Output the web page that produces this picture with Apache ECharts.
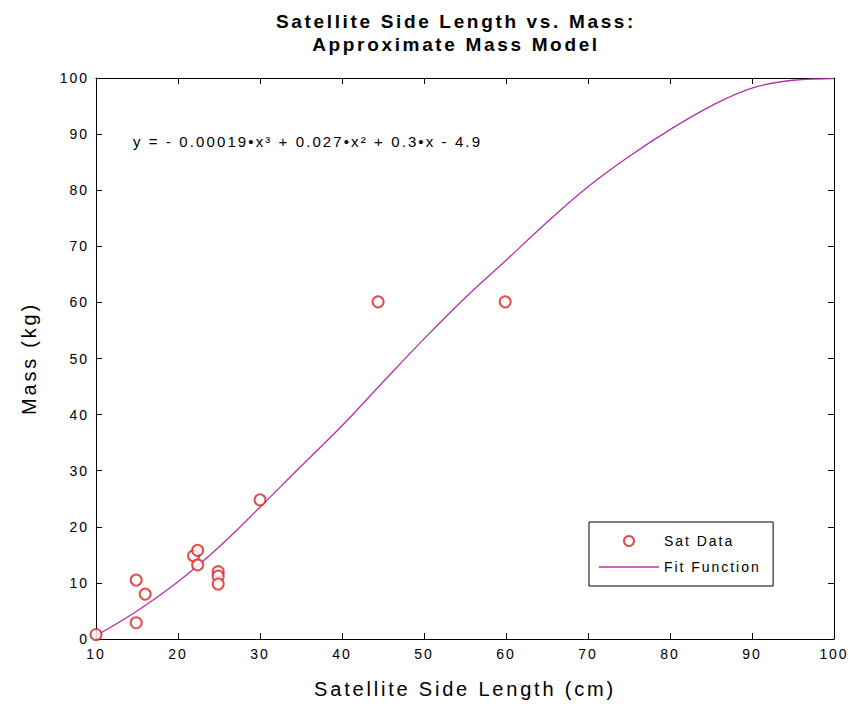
<!DOCTYPE html>
<html>
<head>
<meta charset="utf-8">
<script src="https://cdn.jsdelivr.net/npm/echarts@6/dist/echarts.min.js"></script>
<style>
html,body{margin:0;padding:0;background:#fff}
#c{width:862px;height:704px}
#c svg text{letter-spacing:0.14em}
</style>
</head>
<body>
<div id="c"></div>
<script>
var satX = [10, 14.9, 14.9, 16.0, 21.9, 22.4, 22.4, 24.9, 24.9, 24.9, 30.0, 44.4, 59.9];
var satY = [0.8, 10.5, 2.9, 8.0, 14.8, 15.8, 13.2, 12.0, 11.2, 9.8, 24.8, 60.1, 60.1];
var fitX = [10, 15, 20, 25, 30, 35, 40, 45, 50, 55, 60, 65, 70, 75, 80, 85, 90, 95, 100];
var fitY = [0.6, 5.0, 10.2, 16.4, 23.5, 30.8, 38.0, 45.8, 53.5, 60.8, 67.5, 74.3, 80.6, 86.0, 90.8, 95.0, 98.2, 99.6, 99.9];
var xTicks = [10, 20, 30, 40, 50, 60, 70, 80, 90, 100];
var yTicks = [0, 10, 20, 30, 40, 50, 60, 70, 80, 90, 100];
var equation = 'y = - 0.00019•x³ + 0.027•x² + 0.3•x - 4.9';

var FONT = 'Liberation Sans';
var chart = echarts.init(document.getElementById('c'), null, { renderer: 'svg' });
function pairs(a, b) { return a.map(function (v, i) { return [v, b[i]]; }); }
var axisCommon = {
  type: 'value', interval: 10,
  axisLine: { show: true, onZero: false, lineStyle: { color: '#000', width: 1 } },
  axisTick: { show: true, inside: true, length: 6, lineStyle: { color: '#000' } },
  splitLine: { show: false }
};
chart.setOption({
  animation: false,
  backgroundColor: '#fff',
  title: {
    text: 'Satellite Side Length vs. Mass:\nApproximate Mass Model',
    left: 451, top: 5, textAlign: 'center',
    textStyle: { fontFamily: FONT, fontWeight: 'bold', fontSize: 19, lineHeight: 23, color: '#000' }
  },
  grid: { left: 96, right: 28, top: 78, bottom: 64, show: false },
  legend: {
    orient: 'vertical', left: 589, top: 522,
    padding: [12, 36, 12, 10],
    borderColor: '#000', borderWidth: 1, backgroundColor: '#fff',
    itemWidth: 60, itemHeight: 10, itemGap: 12,
    textStyle: { fontFamily: FONT, fontSize: 14, color: '#000' },
    data: [{ name: 'Sat Data' }, { name: 'Fit Function', icon: 'path://M0,0H60V1.4H0Z' }]
  },
  xAxis: [
    Object.assign({}, axisCommon, {
      min: 10, max: 100, position: 'bottom',
      name: 'Satellite Side Length (cm)', nameLocation: 'middle', nameGap: 40,
      nameTextStyle: { fontFamily: FONT, fontSize: 20, color: '#000' },
      axisLabel: { fontFamily: FONT, fontSize: 14, color: '#000', margin: 8,
        formatter: function (v) { return xTicks.indexOf(v) >= 0 ? String(v) : ''; } }
    }),
    Object.assign({}, axisCommon, {
      min: 10, max: 100, position: 'top', axisLabel: { show: false }
    })
  ],
  yAxis: [
    Object.assign({}, axisCommon, {
      min: 0, max: 100, position: 'left',
      name: 'Mass (kg)', nameLocation: 'middle', nameGap: 57, nameRotate: 90,
      nameTextStyle: { fontFamily: FONT, fontSize: 20, color: '#000' },
      axisLabel: { fontFamily: FONT, fontSize: 14, color: '#000', margin: 7,
        formatter: function (v) { return yTicks.indexOf(v) >= 0 ? String(v) : ''; } }
    }),
    Object.assign({}, axisCommon, {
      min: 0, max: 100, position: 'right', axisLabel: { show: false }
    })
  ],
  series: [
    {
      name: 'Sat Data', type: 'scatter', symbol: 'emptyCircle', symbolSize: 11,
      itemStyle: { color: '#e02020', borderColor: '#e02020', borderWidth: 1.3 },
      data: pairs(satX, satY), z: 3
    },
    {
      name: 'Fit Function', type: 'line', smooth: 0.4, symbol: 'none', showSymbol: false,
      lineStyle: { color: '#b030b0', width: 1.3 }, itemStyle: { color: '#b030b0' },
      data: pairs(fitX, fitY), z: 2
    }
  ],
  graphic: [{
    type: 'text', left: 133, top: 134,
    style: { text: equation, fontFamily: FONT, fontSize: 15, fill: '#000' }
  }]
});
</script>
</body>
</html>
